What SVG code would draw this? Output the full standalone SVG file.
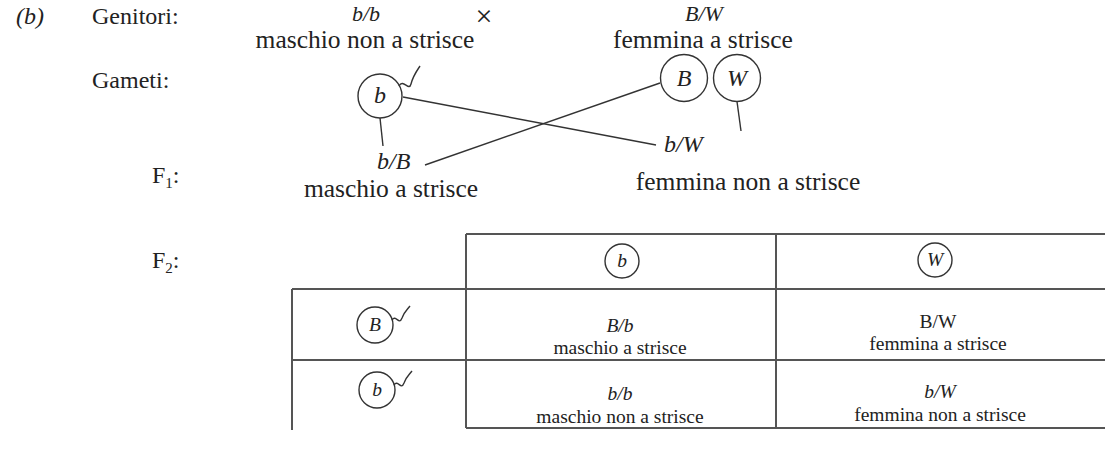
<svg xmlns="http://www.w3.org/2000/svg" width="1105" height="451" viewBox="0 0 1105 451">
<style>
text{font-family:"Liberation Serif","DejaVu Serif",serif;fill:#222}
.lb{font-size:24px}
.gt{font-size:22px}
.ds{font-size:25.5px}
.it{font-style:italic}
.mid{text-anchor:middle}
.tb{font-size:19.5px}
.ln{stroke:#333;stroke-width:1.4;fill:none}
.tl{stroke:#555;stroke-width:2;fill:none}
.c{fill:none;stroke:#333;stroke-width:1.4}
</style>
<g id="labels">
<text class="lb it" x="16" y="24">(b)</text>
<text class="lb" x="92" y="24">Genitori:</text>
<text class="lb" x="92" y="88">Gameti:</text>
<text class="lb" x="152" y="183">F<tspan font-size="15" dy="5">1</tspan><tspan dy="-5">:</tspan></text>
<text class="lb" x="152" y="268">F<tspan font-size="15" dy="5">2</tspan><tspan dy="-5">:</tspan></text>
</g>
<g id="parent-male">
<text class="gt it mid" x="366" y="20.5">b/b</text>
<text class="ds mid" x="365" y="48">maschio non a strisce</text>
</g>
<text class="mid" x="484" y="26" font-size="30">×</text>
<g id="parent-female">
<text class="gt it mid" x="704" y="20.5">B/W</text>
<text class="ds mid" x="703" y="48">femmina a strisce</text>
</g>
<g id="gamete-b">
<circle class="c" cx="380" cy="96" r="22"/>
<text class="lb it mid" x="380" y="103">b</text>
<path class="ln" d="M399 86 C403 78 409 92 411 84 C413 76 416 72 420 66"/>
</g>
<g id="gamete-B">
<circle class="c" cx="684" cy="78" r="23.5"/>
<text class="lb it mid" x="684" y="86">B</text>
</g>
<g id="gamete-W">
<circle class="c" cx="737" cy="78" r="23.5"/>
<text class="lb it mid" x="737" y="86">W</text>
</g>
<g id="f1-male">
<text class="lb it" x="377" y="169">b/B</text>
<text class="ds mid" x="391" y="197">maschio a strisce</text>
</g>
<g id="f1-female">
<text class="lb it" x="664" y="152">b/W</text>
<text class="ds mid" x="748" y="190">femmina non a strisce</text>
</g>
<g id="connectors">
<line class="ln" x1="403" y1="97" x2="656" y2="145"/>
<line class="ln" x1="660" y1="83" x2="425" y2="165"/>
<line class="ln" x1="380" y1="118" x2="383" y2="146"/>
<line class="ln" x1="737" y1="101.5" x2="741" y2="131"/>
</g>
<g id="table">
<path class="tl" d="M466 234 H1105 M292 289 H1105 M292 360 H1105 M466 428 H1105 M466 234 V428 M776 234 V428 M292 289 V430"/>
</g>
<g id="hdr-b">
<circle class="c" cx="622" cy="261" r="17"/>
<text class="tb it mid" x="622" y="267">b</text>
</g>
<g id="hdr-W">
<circle class="c" cx="935" cy="260" r="17"/>
<text class="tb it mid" x="935" y="266">W</text>
</g>
<g id="row-B">
<circle class="c" cx="375" cy="325" r="18"/>
<text class="tb it mid" x="375" y="331">B</text>
<path class="ln" d="M392 320 C396 314 399 326 402 318 C404 312 407 310 410 306"/>
</g>
<g id="row-b">
<circle class="c" cx="377" cy="390" r="18"/>
<text class="tb it mid" x="377" y="396">b</text>
<path class="ln" d="M394 385 C398 379 401 391 404 383 C406 377 409 375 412 371"/>
</g>
<g id="cell-Bb">
<text class="tb it mid" x="620" y="332">B/b</text>
<text class="tb mid" x="620" y="354">maschio a strisce</text>
</g>
<g id="cell-BW">
<text class="tb mid" x="938" y="328">B/W</text>
<text class="tb mid" x="938" y="350">femmina a strisce</text>
</g>
<g id="cell-bb">
<text class="tb it mid" x="620" y="400">b/b</text>
<text class="tb mid" x="620" y="423">maschio non a strisce</text>
</g>
<g id="cell-bW">
<text class="tb it mid" x="940" y="398">b/W</text>
<text class="tb mid" x="940" y="421">femmina non a strisce</text>
</g>
</svg>
